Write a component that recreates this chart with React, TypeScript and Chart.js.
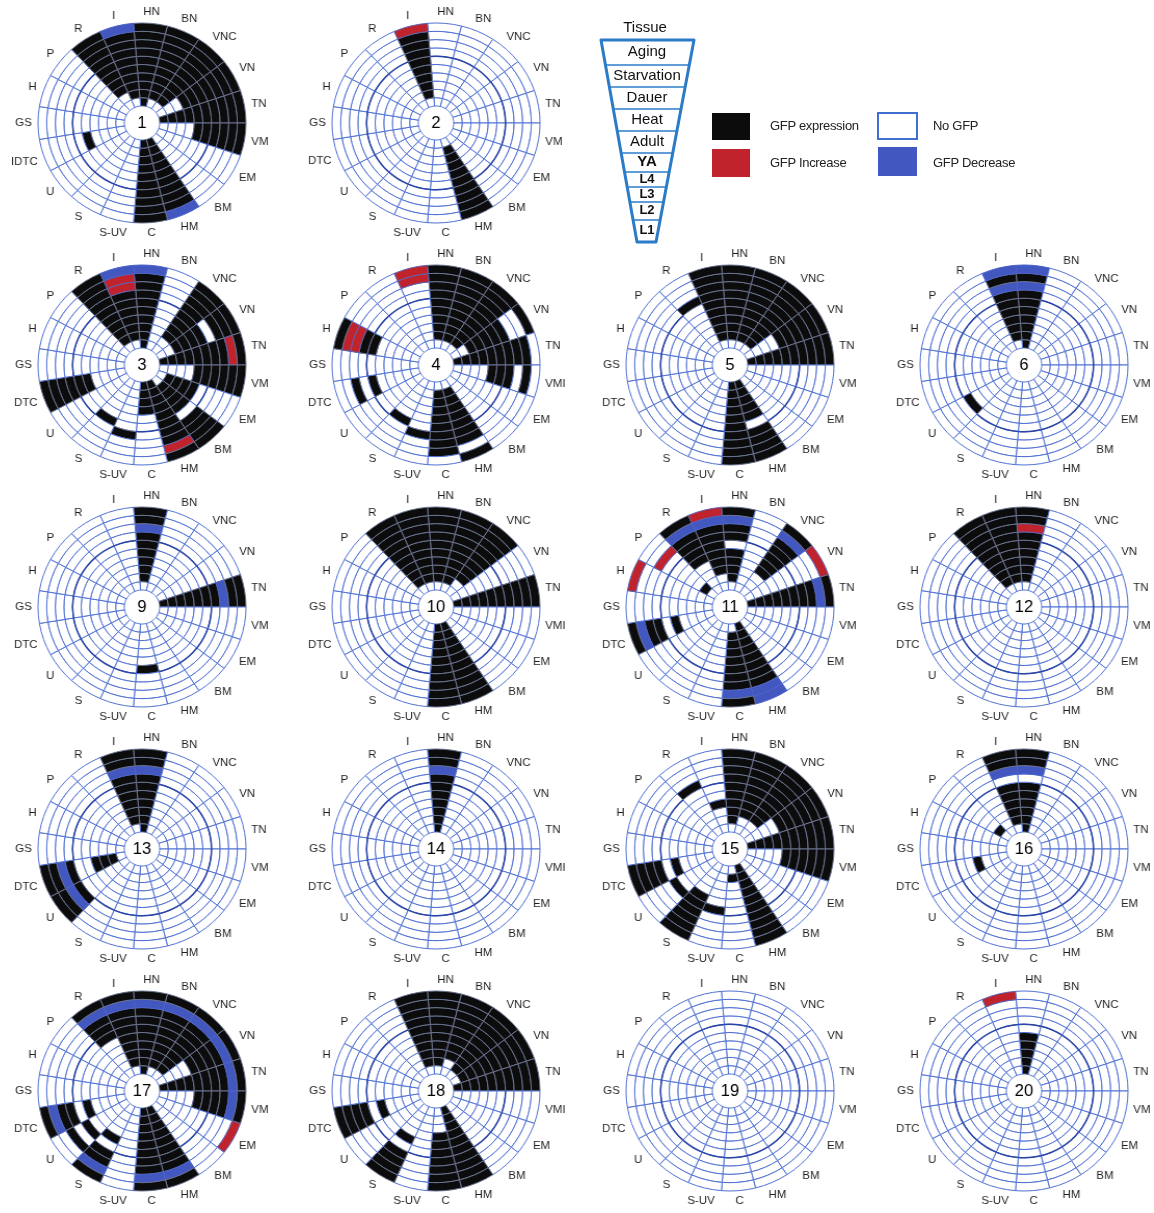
import React, { useEffect, useRef } from "react";
import { Chart, registerables } from "chart.js";

Chart.register(...registerables);

// Tissues, clockwise from the top
const tissues = ["HN", "BN", "VNC", "VN", "TN", "VM", "EM", "BM", "HM", "C", "S-UV", "S", "U", "DTC", "GS", "H", "P", "R", "I"];
// Rings, inner -> outer
const stages = ["L1", "L2", "L3", "L4", "YA", "Adult", "Heat", "Dauer", "Starvation", "Aging"];
// Cell codes: 0 = No GFP, 1 = GFP expression, 2 = GFP Increase, 3 = GFP Decrease
const legendEntries = [
  { code: "1", label: "GFP expression" },
  { code: "0", label: "No GFP" },
  { code: "2", label: "GFP Increase" },
  { code: "3", label: "GFP Decrease" },
];

const Z = "0000000000";
// Each wheel: one string per tissue (order as `tissues`), one digit per stage (L1 ... Aging)
const wheel1 = ["1111111111", "0111111111", "0111111111", "0001111111", "1111111111", "0000111111", Z, Z, "1111111113", "1111111111", Z, Z, Z, "0000100000", Z, Z, Z, "0011111111", "0111111113"];
const wheel2 = [Z, Z, Z, Z, Z, Z, Z, Z, "0111111111", Z, Z, Z, Z, Z, Z, Z, Z, Z, "0111111112"];
const wheel3 = ["1111111113", Z, "0011111111", "0011110111", "1111111121", "0000111111", "0111100000", "0111101111", "1111111121", "1111000000", "0000001000", "0000010000", Z, "0000111111", Z, Z, Z, "0111111111", "0111111223"];
const wheel4 = ["0111111111", "0111111111", "0111111111", "0011111001", "1111111110", "0000111010", Z, Z, "0111111101", "0111111110", "0000001000", "0000010000", Z, "0000010100", Z, "0000011221", Z, Z, "0000000022"];
const wheel5 = ["0111111111", "0111111111", "0111111111", "0000111111", "1111111111", Z, Z, Z, "1111101111", "1111111111", Z, Z, Z, Z, Z, Z, Z, "0000001000", "0111111111"];
const wheel6 = ["1111111313", Z, Z, Z, Z, Z, Z, Z, Z, Z, Z, Z, "0000010000", Z, Z, Z, Z, Z, "0111111313"];
const wheel9 = ["0111111311", Z, Z, Z, "1111111311", Z, Z, Z, Z, "0000010000", Z, Z, Z, Z, Z, Z, Z, Z, Z];
const wheel10 = ["0111111111", "0111111111", "0011111111", Z, "1111111111", Z, Z, Z, "1111111111", "1111111111", Z, Z, Z, Z, Z, Z, Z, "0111111111", "0111111111"];
const wheel11 = ["0111101131", Z, "0001111131", "0000000002", "1111111131", Z, Z, Z, "1111111133", "0111111131", Z, Z, Z, "0000101131", Z, "0000000002", "0100000200", "0000111131", "0011111132"];
const wheel12 = ["0111111211", Z, Z, Z, Z, Z, Z, Z, Z, Z, Z, Z, Z, Z, Z, Z, Z, "0111111111", "0111111111"];
const wheel13 = ["1111111311", Z, Z, Z, Z, Z, Z, Z, Z, Z, Z, Z, "0000001311", "0111001311", Z, Z, Z, Z, "0111111311"];
const wheel14 = ["1111111311", Z, Z, Z, Z, Z, Z, Z, Z, Z, Z, Z, Z, Z, Z, Z, Z, Z, Z];
const wheel15 = ["0111111111", "0011111111", "0011111111", "0000111111", "1111111111", "0000111111", Z, Z, "1111111111", "0100000000", "0000010000", "0000111111", "0000010000", "0000101111", Z, Z, Z, "0000001000", "0001000000"];
const wheel16 = ["1111110311", Z, Z, Z, Z, Z, Z, Z, Z, Z, Z, Z, Z, "0001000000", Z, Z, "0100000000", Z, "0111110311"];
const wheel17 = ["1111111131", "0111111131", "0111111131", "0000111131", "1111111131", "0000111131", "0000000002", Z, "1111111131", "1111111131", Z, "0000101131", "0000010100", "0000101131", Z, Z, Z, "0000011131", "0111111131"];
const wheel18 = ["0111111111", "0011111111", "0111111111", "0111111111", "1111111111", Z, Z, Z, "1111111111", "0001111111", Z, "0000101111", Z, "0000101111", Z, Z, Z, Z, "0111111111"];
const wheel19 = [Z, Z, Z, Z, Z, Z, Z, Z, Z, Z, Z, Z, Z, Z, Z, Z, Z, Z, Z];
const wheel20 = ["1111100000", Z, Z, Z, Z, Z, Z, Z, Z, Z, Z, Z, Z, Z, Z, Z, Z, Z, "0000000002"];

const wheelIds = [1, 2, 3, 4, 5, 6, 9, 10, 11, 12, 13, 14, 15, 16, 17, 18, 19, 20];
const wheelCells = [wheel1, wheel2, wheel3, wheel4, wheel5, wheel6, wheel9, wheel10, wheel11, wheel12, wheel13, wheel14, wheel15, wheel16, wheel17, wheel18, wheel19, wheel20];
const wheelSlots = [[0, 0], [1, 0], [0, 1], [1, 1], [2, 1], [3, 1], [0, 2], [1, 2], [2, 2], [3, 2], [0, 3], [1, 3], [2, 3], [3, 3], [0, 4], [1, 4], [2, 4], [3, 4]];
// label spellings as printed
const vmiWheels = [4, 10, 14, 18];
const idtcWheels = [1];

const COLORS: Record<string, string> = { "0": "#ffffff", "1": "#0c0c0c", "2": "#c0232c", "3": "#4257c0" };
const BORDERS: Record<string, string> = { "0": "#4f70d2", "1": "#6a7390", "2": "#5a62b0", "3": "#4a62c8" };

const colX = [142, 436, 730, 1024];
const rowY = [123, 365, 607, 849, 1091];
const CW = 290;
const CH = 240;
const ROT = -90 / 19;

function makeDecor(num: number, cells: string[], labels: string[]) {
  return {
    id: "wheelDecor",
    afterDatasetsDraw(chart: any) {
      const ctx = chart.ctx as CanvasRenderingContext2D;
      const outerMeta = chart.getDatasetMeta(0);
      const first = outerMeta.data[0] as any;
      const cx = first.x;
      const cy = first.y;
      const outer = first.outerRadius;
      const heatMeta = chart.getDatasetMeta(stages.length - 1 - 6);
      ctx.save();
      ctx.strokeStyle = "#2a45a6";
      ctx.lineWidth = 1.5;
      cells.forEach((s, k) => {
        if (s[5] === "0" && s[6] === "0") {
          const a = heatMeta.data[k] as any;
          ctx.beginPath();
          ctx.arc(cx, cy, a.innerRadius, a.startAngle, a.endAngle);
          ctx.stroke();
        }
      });
      ctx.fillStyle = "#1e1e1e";
      ctx.font = '11px "Liberation Sans", Arial, sans-serif';
      ctx.textAlign = "center";
      ctx.textBaseline = "middle";
      labels.forEach((lab, k) => {
        const a = outerMeta.data[k] as any;
        const mid = (a.startAngle + a.endAngle) / 2;
        const w = ctx.measureText(lab).width;
        const R = outer + 6 + (Math.abs(Math.cos(mid)) * w) / 2 + Math.abs(Math.sin(mid)) * 4.5;
        ctx.fillText(lab, cx + R * Math.cos(mid), cy + R * Math.sin(mid));
      });
      ctx.fillStyle = "#000";
      ctx.font = '16px "Liberation Sans", Arial, sans-serif';
      ctx.fillText(String(num), cx, cy + 1);
      ctx.restore();
    },
  };
}

function Wheel({ num, cells, cx, cy }: { num: number; cells: string[]; cx: number; cy: number }) {
  const ref = useRef<HTMLCanvasElement>(null);
  useEffect(() => {
    if (!ref.current) return;
    const labels = tissues.map((t) => {
      if (t === "VM" && vmiWheels.includes(num)) return "VMI";
      if (t === "DTC" && idtcWheels.includes(num)) return "IDTC";
      return t;
    });
    const datasets: any[] = [];
    for (let ring = stages.length - 1; ring >= 0; ring--) {
      datasets.push({
        label: stages[ring],
        data: tissues.map(() => 1),
        backgroundColor: cells.map((s) => COLORS[s[ring]]),
        borderColor: cells.map((s) => BORDERS[s[ring]]),
        borderWidth: 1,
      });
    }
    const chart = new Chart(ref.current, {
      type: "doughnut",
      data: { labels: tissues, datasets },
      options: {
        responsive: false,
        animation: false,
        rotation: ROT,
        radius: 100,
        cutout: "17%",
        events: [],
        plugins: { legend: { display: false }, tooltip: { enabled: false } },
      } as any,
      plugins: [makeDecor(num, cells, labels)],
    });
    return () => chart.destroy();
  }, [num, cells]);
  return (
    <canvas
      ref={ref}
      width={CW}
      height={CH}
      style={{ position: "absolute", left: cx - CW / 2, top: cy - CH / 2, transform: "scaleX(1.04)" }}
    />
  );
}

const funnelLines = [65, 87, 109, 131, 153, 172, 187, 202, 220];
const funnelCenters = [52.5, 76, 98, 120, 142, 162.5, 179.5, 194.5, 211, 231];

function Legend() {
  const top = 40, bottom = 242, lt = 601, rt = 694, lb = 637, rb = 656;
  const xl = (y: number) => lt + ((lb - lt) * (y - top)) / (bottom - top);
  const xr = (y: number) => rt - ((rt - rb) * (y - top)) / (bottom - top);
  const rows = stages.slice().reverse();
  const font = '"Liberation Sans", Arial, sans-serif';
  const swatch = [
    { x: 712, y: 113, w: 38, h: 27, tx: 770, ty: 127 },
    { x: 878, y: 113, w: 39, h: 26, tx: 933, ty: 127 },
    { x: 712, y: 149, w: 38, h: 28, tx: 770, ty: 164 },
    { x: 878, y: 147, w: 39, h: 29, tx: 933, ty: 164 },
  ];
  return (
    <svg width={1154} height={1213} style={{ position: "absolute", left: 0, top: 0, pointerEvents: "none" }}>
      <text x={645} y={28} fontSize={15} fontFamily={font} textAnchor="middle" dominantBaseline="middle" fill="#111">Tissue</text>
      <polygon points={`${lt},${top} ${rt},${top} ${rb},${bottom} ${lb},${bottom}`} fill="#fff" stroke="#2b7bc8" strokeWidth={3} strokeLinejoin="round" />
      {funnelLines.map((y) => (
        <line key={y} x1={xl(y)} y1={y} x2={xr(y)} y2={y} stroke="#2b7bc8" strokeWidth={1.5} />
      ))}
      {rows.map((r, i) => {
        const bold = i >= 5;
        return (
          <text key={r} x={647} y={funnelCenters[i]} fontSize={i >= 6 ? 13 : 15} fontWeight={bold ? "bold" : "normal"} fontFamily={font} textAnchor="middle" dominantBaseline="middle" fill="#111">
            {r}
          </text>
        );
      })}
      {legendEntries.map((e, i) => {
        const s = swatch[i];
        return (
          <g key={e.label}>
            <rect x={s.x} y={s.y} width={s.w} height={s.h} fill={COLORS[e.code]} stroke={e.code === "0" ? "#3f6fd0" : "none"} strokeWidth={2} />
            <text x={s.tx} y={s.ty} fontSize={13} fontFamily={font} dominantBaseline="middle" fill="#222" letterSpacing={-0.3}>
              {e.label}
            </text>
          </g>
        );
      })}
    </svg>
  );
}

export default function App() {
  return (
    <div style={{ position: "fixed", left: 0, top: 0, width: 1154, height: 1213, background: "#fff", overflow: "hidden" }}>
      {wheelIds.map((id, i) => (
        <Wheel key={id} num={id} cells={wheelCells[i]} cx={colX[wheelSlots[i][0]]} cy={rowY[wheelSlots[i][1]]} />
      ))}
      <Legend />
    </div>
  );
}
